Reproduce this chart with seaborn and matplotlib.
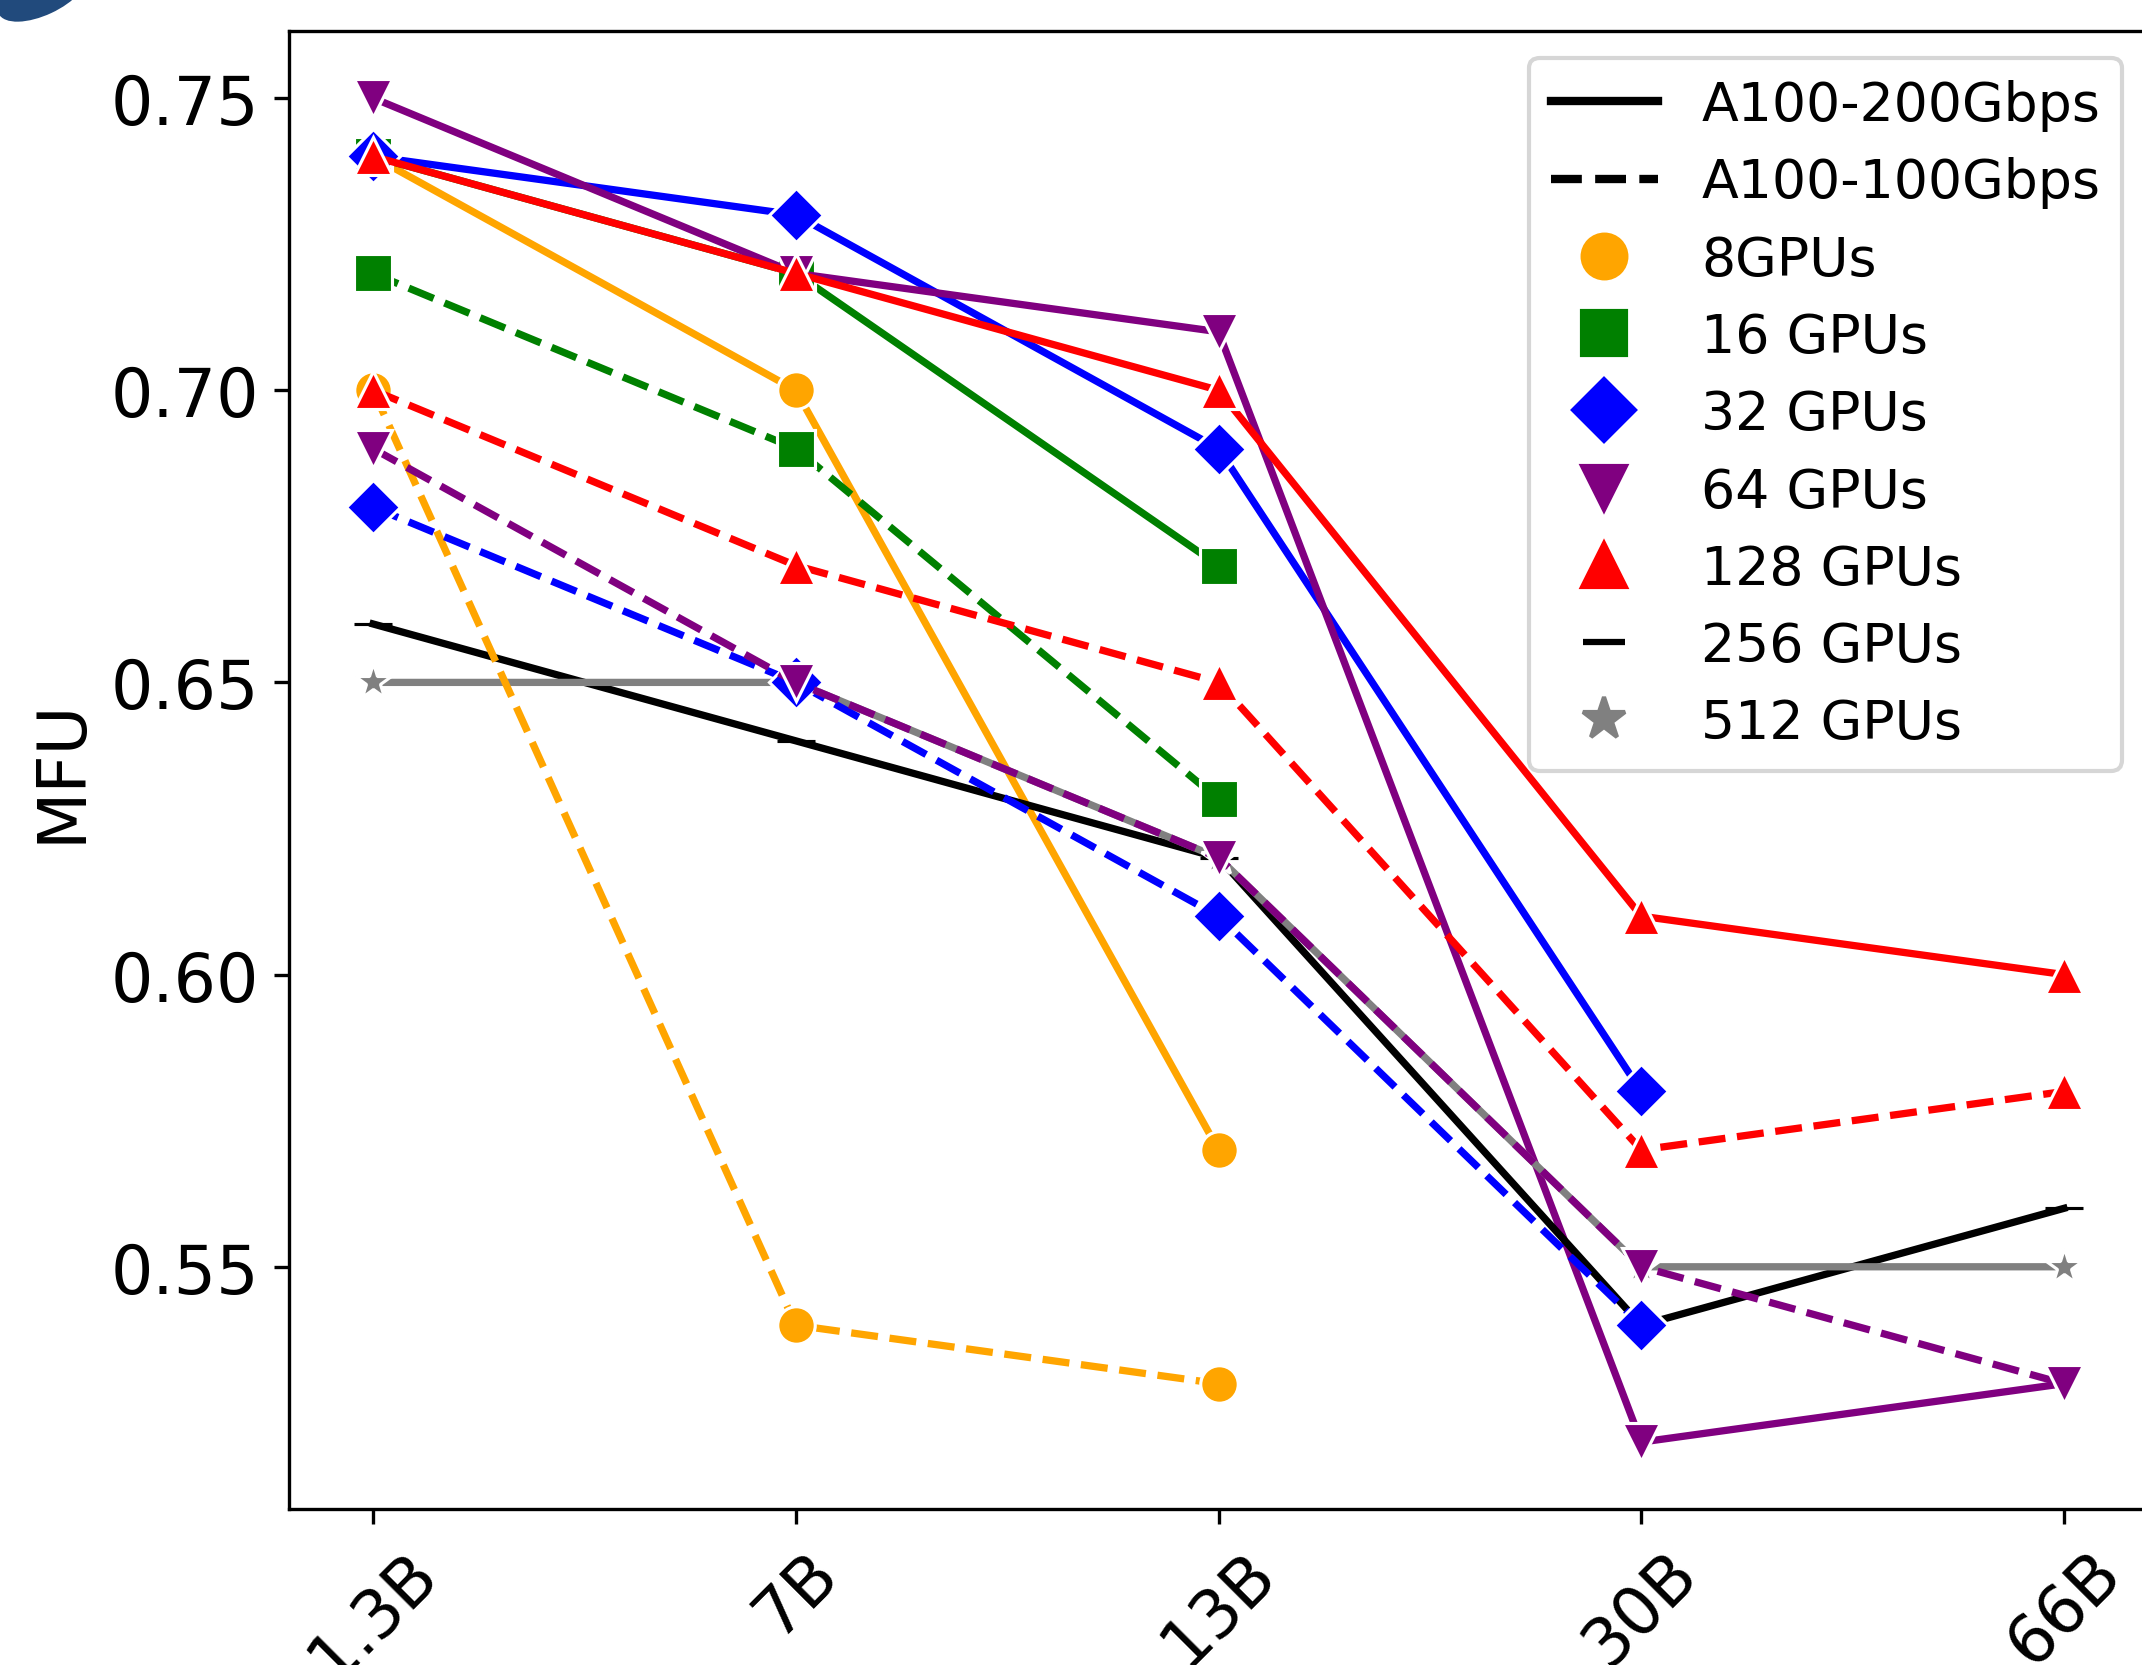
import matplotlib
matplotlib.use("Agg")
import seaborn as sns
from matplotlib import pyplot as plt
from matplotlib.lines import Line2D
from matplotlib.patches import Ellipse
from matplotlib.transforms import IdentityTransform

models = ['1.3B', '7B', '13B', '30B', '66B']
gpu_labels = ['8GPUs', '16 GPUs', '32 GPUs', '64 GPUs', '128 GPUs', '256 GPUs', '512 GPUs']

# MFU with A100-200Gbps (solid lines)
mfu200_8 = [0.74, 0.70, 0.57]
mfu200_16 = [0.74, 0.72, 0.67]
mfu200_32 = [0.74, 0.73, 0.69, 0.58]
mfu200_64 = [0.75, 0.72, 0.71, 0.52, 0.53]
mfu200_128 = [0.74, 0.72, 0.70, 0.61, 0.60]
mfu200_256 = [0.66, 0.64, 0.62, 0.54, 0.56]
mfu200_512 = [0.65, 0.65, 0.62, 0.55, 0.55]

# MFU with A100-100Gbps (dashed lines)
mfu100_8 = [0.70, 0.54, 0.53]
mfu100_16 = [0.72, 0.69, 0.63]
mfu100_32 = [0.68, 0.65, 0.61, 0.54]
mfu100_64 = [0.69, 0.65, 0.62, 0.55, 0.53]
mfu100_128 = [0.70, 0.67, 0.65, 0.57, 0.58]

colors = ['orange', 'green', 'blue', 'purple', 'red', 'black', 'gray']
markers = ['o', 's', 'D', 'v', '^', '_', '*']

fig = plt.figure(figsize=(7.14, 5.5533), dpi=300)
ax = fig.add_axes([0.13469, 0.09346, 0.86835, 0.88745])

series200 = [mfu200_8, mfu200_16, mfu200_32, mfu200_64, mfu200_128, mfu200_256, mfu200_512]
series100 = [mfu100_8, mfu100_16, mfu100_32, mfu100_64, mfu100_128]

for vals, c, m in zip(series200, colors, markers):
    mec = c if m == '_' else 'w'
    sns.lineplot(x=models[:len(vals)], y=vals, color=c, marker=m, markersize=9,
                 markeredgecolor=mec, linewidth=1.75, ax=ax)

for vals, c, m in zip(series100, colors, markers):
    sns.lineplot(x=models[:len(vals)], y=vals, color=c, marker=m, markersize=9,
                 linestyle='--', linewidth=1.75, ax=ax)

ax.set_ylabel('MFU', fontsize=16)
ax.set_xlabel('')
ax.tick_params(axis='both', labelsize=16)
plt.setp(ax.get_xticklabels(), rotation=45)

handles = [
    Line2D([], [], color='black', linestyle='-', linewidth=2),
    Line2D([], [], color='black', linestyle='--', linewidth=2),
]
for c, m in zip(colors, markers):
    if m == '_':
        handles.append(Line2D([], [], color=c, marker=m, linestyle='None',
                              markersize=10, markeredgewidth=1.5))
    else:
        handles.append(Line2D([], [], color=c, marker=m, linestyle='None',
                              markersize=10.5, markeredgecolor=c))
labels = ['A100-200Gbps', 'A100-100Gbps'] + gpu_labels
ax.legend(handles, labels, loc='upper right', fontsize=12.9, labelspacing=0.47)

# stray mark in the top-left corner of the source image
fig.add_artist(Ellipse((42, 1672), 92, 40, angle=25, color='#214a7c',
                       transform=IdentityTransform()))

fig.savefig('out.png', dpi=300)
